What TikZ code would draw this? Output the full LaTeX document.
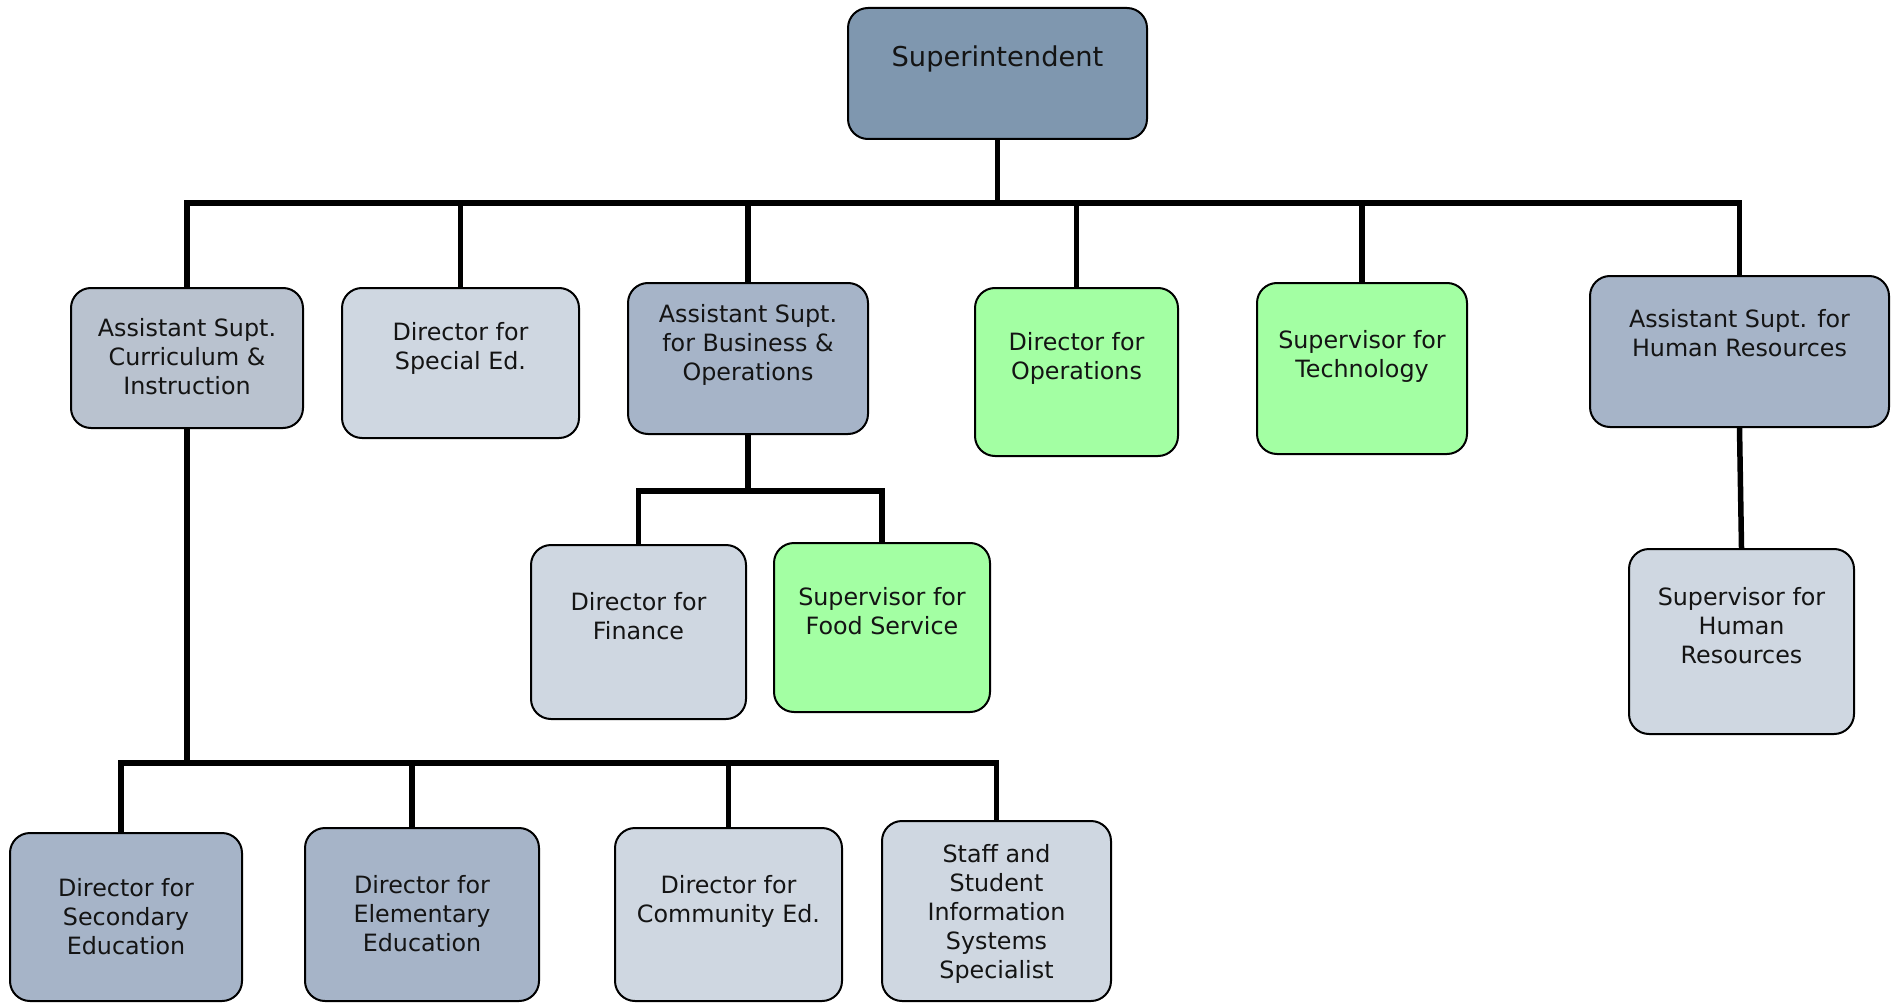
\documentclass[tikz,border=0pt]{standalone}
\usepackage{fontspec}
\setmainfont{DejaVu Sans}
\definecolor{supC}{HTML}{7F97AF}
\definecolor{curC}{HTML}{B9C2CF}
\definecolor{lightC}{HTML}{CFD7E1}
\definecolor{midC}{HTML}{A6B4C8}
\definecolor{greenC}{HTML}{A3FFA3}
\begin{document}
\begin{tikzpicture}[x=1pt,y=-1pt,
  box/.style={draw=black, line width=2pt, rounded corners=20pt, inner sep=0pt},
  lbl/.style={anchor=north, align=center, inner sep=0pt, font=\fontsize{23.8}{29}\selectfont, text=black!92},
  conn/.style={line width=5.5pt, line join=miter}]
\useasboundingbox (0,0) rectangle (1895,1003);
% boxes
\node[box, fill=supC, minimum width=299pt, minimum height=131pt] (sup) at (997.5,73.5) {};
\node[box, fill=curC, minimum width=232pt, minimum height=140pt] (curr) at (187,358) {};
\node[box, fill=lightC, minimum width=237pt, minimum height=150pt] (sped) at (460.5,363) {};
\node[box, fill=midC, minimum width=240pt, minimum height=151pt] (bus) at (748,358.5) {};
\node[box, fill=greenC, minimum width=203pt, minimum height=168pt] (ops) at (1076.5,372) {};
\node[box, fill=greenC, minimum width=210pt, minimum height=171pt] (tech) at (1362,368.5) {};
\node[box, fill=midC, minimum width=299pt, minimum height=151pt] (hra) at (1739.5,351.5) {};
\node[box, fill=lightC, minimum width=215pt, minimum height=174pt] (fin) at (638.5,632) {};
\node[box, fill=greenC, minimum width=216pt, minimum height=169pt] (food) at (882,627.5) {};
\node[box, fill=lightC, minimum width=225pt, minimum height=185pt] (suphr) at (1741.5,641.5) {};
\node[box, fill=midC, minimum width=232pt, minimum height=168pt] (sec) at (126,917) {};
\node[box, fill=midC, minimum width=234pt, minimum height=173pt] (elem) at (422,914.5) {};
\node[box, fill=lightC, minimum width=227pt, minimum height=173pt] (comm) at (728.5,914.5) {};
\node[box, fill=lightC, minimum width=229pt, minimum height=180pt] (staff) at (996.5,911) {};
% labels
\node[lbl, font=\fontsize{27.3}{32}\selectfont] (supT) at (997.5,46) {Superintendent};
\node[lbl] (currT) at (187,318.3) {Assistant Supt.\\Curriculum \&\\Instruction};
\node[lbl] (spedT) at (460.5,322.3) {Director for\\Special Ed.};
\node[lbl] (busT) at (748,304.3) {Assistant Supt.\\for Business \&\\Operations};
\node[lbl] (opsT) at (1076.5,332.3) {Director for\\Operations};
\node[lbl] (techT) at (1362,330.3) {Supervisor for\\Technology};
\node[lbl] (hraT) at (1739.5,309.3) {Assistant Supt. for\\Human Resources};
\node[lbl] (finT) at (638.5,592.3) {Director for\\Finance};
\node[lbl] (foodT) at (882,587.3) {Supervisor for\\Food Service};
\node[lbl] (suphrT) at (1741.5,587.3) {Supervisor for\\Human\\Resources};
\node[lbl] (secT) at (126,878.3) {Director for\\Secondary\\Education};
\node[lbl] (elemT) at (422,875.3) {Director for\\Elementary\\Education};
\node[lbl] (commT) at (728.5,875.3) {Director for\\Community Ed.};
\node[lbl] (staffT) at (996.5,844.3) {Staff and\\Student\\Information\\Systems\\Specialist};
% bus bars
\coordinate (bar1) at (997.5,203);
\coordinate (bar2) at (748,491);
\coordinate (bar3) at (600,763);
% connectors
\draw[conn] (curr.north) |- (bar1) -| (hra.north);
\draw[conn] (sup.south) -- (bar1);
\draw[conn] (sped.north) -- (sped.north |- bar1);
\draw[conn] (bus.north) -- (bus.north |- bar1);
\draw[conn] (ops.north) -- (ops.north |- bar1);
\draw[conn] (tech.north) -- (tech.north |- bar1);
\draw[conn] (fin.north) |- (bar2) -| (food.north);
\draw[conn] (bus.south) -- (bar2);
\draw[conn] (hra.south) -- (suphr.north);
\draw[conn] ([xshift=-5pt]sec.north) |- (bar3) -| (staff.north);
\draw[conn] (curr.south) -- (curr.south |- bar3);
\draw[conn] ([xshift=-10pt]elem.north) -- ([xshift=-10pt]elem.north |- bar3);
\draw[conn] (comm.north) -- (comm.north |- bar3);
\end{tikzpicture}
\end{document}
